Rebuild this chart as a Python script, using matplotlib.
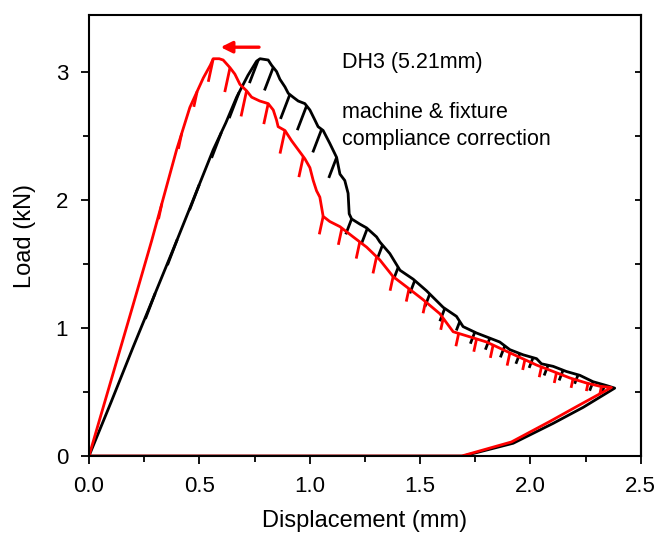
import numpy as np
import matplotlib
matplotlib.use("Agg")
import matplotlib.pyplot as plt
from matplotlib.ticker import MultipleLocator

plt.rcParams["font.family"] = ["Liberation Sans", "DejaVu Sans"]

# black: raw load-displacement, red: after machine & fixture compliance correction
black_x = [0.0, 0.10, 0.20, 0.30, 0.40, 0.47, 0.563, 0.62, 0.669, 0.72, 0.759, 0.775, 0.812,
           0.827, 0.850, 0.865, 0.888, 0.903, 0.925, 0.948, 0.978, 1.001, 1.024, 1.038, 1.061,
           1.091, 1.122, 1.137, 1.159, 1.174, 1.179, 1.190, 1.227, 1.258, 1.303, 1.318, 1.363,
           1.409, 1.469, 1.529, 1.605, 1.665, 1.695, 1.756, 1.816, 1.861, 1.907, 1.967, 2.028,
           2.050, 2.103, 2.163, 2.224, 2.284, 2.345, 2.382,
           2.239, 2.103, 1.922, 1.695, 0.0]
black_y = [0.0, 0.42, 0.85, 1.27, 1.69, 1.99, 2.39, 2.60, 2.80, 2.97, 3.08, 3.10, 3.09,
           3.05, 3.00, 2.94, 2.88, 2.83, 2.80, 2.77, 2.75, 2.70, 2.62, 2.57, 2.54,
           2.44, 2.33, 2.20, 2.15, 2.05, 1.89, 1.85, 1.81, 1.78, 1.71, 1.67, 1.58,
           1.45, 1.38, 1.29, 1.16, 1.09, 1.01, 0.96, 0.92, 0.89, 0.83, 0.79, 0.76,
           0.72, 0.70, 0.66, 0.63, 0.58, 0.55, 0.53,
           0.38, 0.255, 0.10, 0.0, 0.0]

red_x = [0.0, 0.10, 0.20, 0.284, 0.335, 0.397, 0.457, 0.518, 0.55, 0.563, 0.590, 0.608,
         0.639, 0.661, 0.684, 0.714, 0.737, 0.774, 0.812, 0.835, 0.850, 0.857, 0.888, 0.918,
         0.948, 0.978, 1.001, 1.016, 1.031, 1.046, 1.061, 1.091, 1.137, 1.152, 1.197, 1.258,
         1.318, 1.378, 1.439, 1.514, 1.590, 1.650, 1.726, 1.801, 1.876, 1.952, 2.028, 2.103,
         2.178, 2.254, 2.314, 2.367,
         2.224, 2.088, 1.914, 1.688, 0.0]
red_y = [0.0, 0.59, 1.18, 1.68, 2.00, 2.39, 2.72, 2.95, 3.05, 3.10, 3.10, 3.09,
         3.03, 2.98, 2.90, 2.85, 2.80, 2.77, 2.75, 2.70, 2.62, 2.57, 2.54, 2.46,
         2.39, 2.32, 2.25, 2.15, 2.07, 2.02, 1.87, 1.83, 1.79, 1.77, 1.71, 1.63,
         1.53, 1.40, 1.32, 1.22, 1.11, 0.97, 0.93, 0.89, 0.83, 0.77, 0.71, 0.66,
         0.61, 0.57, 0.545, 0.535,
         0.40, 0.27, 0.11, 0.0, 0.0]

# unload-reload loops: position on the envelope and depth of each loop
black_loop_x = [0.30, 0.40, 0.50, 0.60, 0.68, 0.767, 0.835, 0.910, 0.986, 1.054, 1.122,
                1.190, 1.261, 1.330, 1.401, 1.476, 1.544, 1.612, 1.680,
                1.748, 1.816, 1.884, 1.952, 2.012, 2.080, 2.148, 2.216, 2.284, 2.337]
black_loop_dy = [0.20, 0.20, 0.20, 0.20, 0.20, 0.18, 0.18, 0.19, 0.19, 0.18, 0.16,
                 0.12, 0.12, 0.10, 0.09, 0.10, 0.10, 0.10, 0.07,
                 0.09, 0.09, 0.09, 0.08, 0.08, 0.08, 0.08, 0.07, 0.07, 0.06]
red_loop_x = [0.33, 0.42, 0.49, 0.563, 0.639, 0.714, 0.812, 0.888, 0.971, 1.061, 1.146,
              1.227, 1.303, 1.378, 1.450, 1.525, 1.605, 1.675, 1.756, 1.831, 1.907,
              1.975, 2.050, 2.118, 2.193, 2.261, 2.322]
red_loop_dy = [0.12, 0.12, 0.12, 0.18, 0.19, 0.20, 0.16, 0.18, 0.16, 0.14, 0.13,
               0.13, 0.13, 0.11, 0.10, 0.09, 0.09, 0.10, 0.10, 0.10, 0.10,
               0.08, 0.08, 0.08, 0.07, 0.06, 0.055]
black_stiff = 4.5
red_stiff = 8.0
lw = 2.0


def draw_loops(ax, env_x, env_y, loop_x, loop_dy, stiff, color):
    n_peak = int(np.argmax(env_y))
    end = len(env_x) - 5
    for x0, dy in zip(loop_x, loop_dy):
        # top of loop sits on the envelope
        if x0 >= env_x[n_peak]:
            y0 = np.interp(x0, env_x[:end], env_y[:end])
        else:
            y0 = np.interp(x0, env_x[:n_peak + 1], env_y[:n_peak + 1])
        ax.plot([x0, x0 - dy / stiff], [y0, y0 - dy], color=color, lw=lw,
                solid_capstyle="butt")


fig = plt.figure(figsize=(6.64, 5.41), dpi=100)
ax = fig.add_axes([0.134, 0.157, 0.831, 0.815])

ax.plot(black_x, black_y, color="black", lw=lw)
draw_loops(ax, black_x, black_y, black_loop_x, black_loop_dy, black_stiff, "black")
ax.plot(red_x, red_y, color="red", lw=lw)
draw_loops(ax, red_x, red_y, red_loop_x, red_loop_dy, red_stiff, "red")

ax.annotate("", xy=(0.584, 3.19), xytext=(0.783, 3.19),
            arrowprops=dict(arrowstyle="-|>", color="red", lw=2.4,
                            mutation_scale=17))

ax.text(1.147, 3.03, "DH3 (5.21mm)", fontsize=15.5)
ax.text(1.147, 2.64, "machine & fixture", fontsize=15.5)
ax.text(1.147, 2.43, "compliance correction", fontsize=15.5)

ax.set_xlim(0, 2.5)
ax.set_ylim(0, 3.44)
ax.xaxis.set_major_locator(MultipleLocator(0.5))
ax.xaxis.set_minor_locator(MultipleLocator(0.25))
ax.yaxis.set_major_locator(MultipleLocator(1))
ax.yaxis.set_minor_locator(MultipleLocator(0.5))
ax.xaxis.set_major_formatter(plt.FormatStrFormatter("%.1f"))
ax.tick_params(which="both", direction="out", top=False, right=False, width=1.3,
               labelsize=16)
ax.tick_params(axis="x", pad=8)
ax.tick_params(axis="y", pad=9)
ax.tick_params(which="major", length=6)
ax.tick_params(which="minor", length=4)

right = ax.secondary_yaxis("right")
right.yaxis.set_major_locator(MultipleLocator(0.5))
right.tick_params(direction="in", length=4, width=1.3, labelright=False)

for s in ax.spines.values():
    s.set_linewidth(1.5)
right.spines["right"].set_linewidth(1.5)

ax.set_xlabel("Displacement (mm)", fontsize=17, labelpad=10)
ax.set_ylabel("Load (kN)", fontsize=17, labelpad=14)

fig.savefig("out.png", dpi=100)
